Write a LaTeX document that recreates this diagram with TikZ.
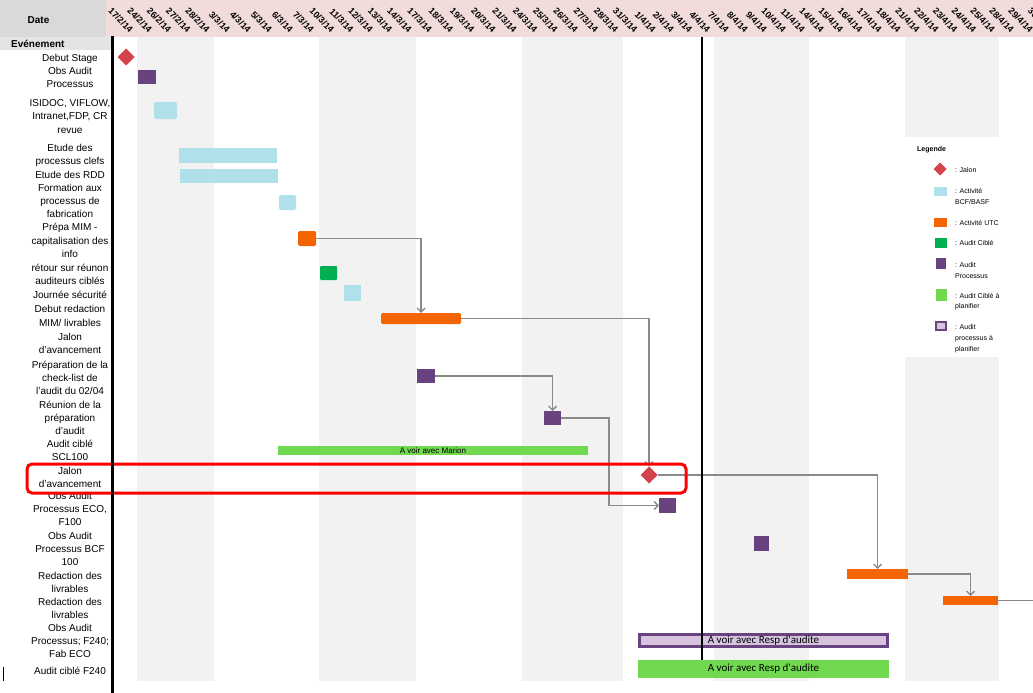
\documentclass[tikz,border=0pt]{standalone}
\usepackage{fontspec}
\setmainfont{Liberation Sans}
\newfontfamily\calfont{Carlito}
\usetikzlibrary{arrows.meta,positioning,shapes.geometric}
\definecolor{hdrpink}{HTML}{F2DCDB}
\definecolor{hdrgray}{HTML}{D9D9D9}
\definecolor{wkgray}{HTML}{F2F2F2}
\definecolor{jalred}{HTML}{D4434B}
\definecolor{bcfblue}{HTML}{B0E0E9}
\definecolor{utcorange}{HTML}{F46400}
\definecolor{cibgreen}{HTML}{00B050}
\definecolor{procpurple}{HTML}{694280}
\definecolor{plangreen}{HTML}{70D94F}
\definecolor{planlav}{HTML}{D6C3DE}
\definecolor{linkgray}{HTML}{8A8A8A}

\begin{document}
\begin{tikzpicture}[x=1pt,y=-1pt,
  task/.style={rectangle,inner sep=0pt,outer sep=0pt},
  jalon/.style={diamond,fill=jalred,inner sep=0pt,outer sep=0pt,minimum width=17pt,minimum height=17pt},
  link/.style={linkgray,line width=1.4pt,-{Straight Barb[length=4pt,width=8pt]}},
  rowlab/.style={align=center,inner sep=0pt,font=\fontsize{10}{13.3}\selectfont},
  datelab/.style={rotate=-45,anchor=east,inner sep=0pt,font=\fontsize{9}{10}\selectfont\bfseries},
  leglab/.style={anchor=west,align=left,inner sep=0pt,font=\fontsize{7}{10.7}\selectfont},
  barlab/.style={font=\fontsize{8}{9}\selectfont}]

  \useasboundingbox (0,0) rectangle (1033,693);
  \fill[white] (0,0) rectangle (1033,693);

  % =====================================================================
  % HEADER: Date row
  % =====================================================================
  \fill[hdrgray] (0,0) rectangle (106,37);
  \fill[hdrpink] (106,0) rectangle (1033,37);
  \node[font=\fontsize{10}{11}\selectfont\bfseries] (hdr-date) at (38.5,20) {Date};

  \begin{scope}
    \clip (106,0) rectangle (1033,37);
    \foreach \xc/\dd/\mm in {127.5/17/2, 146.6/24/2, 165.9/26/2, 185.1/27/2, 204.4/28/2,
        224.5/3/3, 245.5/4/3, 266.5/5/3, 287.5/6/3, 308.5/7/3,
        328.7/10/3, 348.1/11/3, 367.5/12/3, 386.9/13/3, 406.3/14/3,
        426.6/17/3, 447.8/18/3, 469/19/3, 490.2/20/3, 511.4/21/3,
        532.1/24/3, 552.3/25/3, 572.5/26/3, 592.7/27/3, 612.9/28/3,
        632.1/31/3, 650.3/1/4, 668.5/2/4, 686.7/3/4, 704.9/4/4,
        723.5/7/4, 742.5/8/4, 761.5/9/4, 780.5/10/4, 799.5/11/4,
        818.6/14/4, 837.8/15/4, 857/16/4, 876.2/17/4, 895.4/18/4,
        914.4/21/4, 933.2/22/4, 952/23/4, 970.8/24/4, 989.6/25/4,
        1008.5/28/4, 1027.5/29/4, 1047/30/4} {
      \node[datelab] (d-\dd-\mm) at (\xc+4,31) {\dd/\mm/14};
    }
  \end{scope}

  % Week shading
  \foreach \xa/\xb in {137/214, 319/416, 522/623, 714/809, 905/999} {
    \fill[wkgray] (\xa,37) rectangle (\xb,681);
  }

  % =====================================================================
  % LEGEND
  % =====================================================================
  \fill[white] (905,137) rectangle (999,357);
  \node[anchor=west,inner sep=0pt,font=\fontsize{7}{9}\selectfont\bfseries] (leg-title) at (917,150) {Legende};
  \node[jalon,minimum width=13pt,minimum height=13pt] (leg-jal) at (940,169) {};
  \node[task,fill=bcfblue,minimum width=12.5pt,minimum height=9pt] (leg-bcf) at (940.5,191.2) {};
  \node[task,fill=utcorange,minimum width=12.5pt,minimum height=9pt] (leg-utc) at (940.5,222.2) {};
  \node[task,fill=cibgreen,minimum width=12pt,minimum height=10pt] (leg-cib) at (941,242.7) {};
  \node[task,fill=procpurple,minimum width=9.5pt,minimum height=11.5pt] (leg-proc) at (940.8,263.5) {};
  \node[task,fill=plangreen,minimum width=11pt,minimum height=11.4pt] (leg-plan) at (941.3,295) {};
  \node[task,fill=planlav,draw=procpurple,line width=1.6pt,minimum width=10pt,minimum height=8.5pt] (leg-lav) at (941,326) {};
  \node[leglab] (leg-t1) at (955,170) {: Jalon};
  \node[leglab] (leg-t2) at (955,196.3) {: Activité\\BCF/BASF};
  \node[leglab] (leg-t3) at (955,222.7) {: Activité UTC};
  \node[leglab] (leg-t4) at (955,243.3) {: Audit Ciblé};
  \node[leglab] (leg-t5) at (955,270.3) {: Audit\\Processus};
  \node[leglab] (leg-t6) at (955,301.7) {: Audit Ciblé à\\planifier};
  \node[leglab] (leg-t7) at (955,338.6) {: Audit\\processus à\\planifier};

  % =====================================================================
  % LEFT COLUMN: events
  % =====================================================================
  \fill[hdrgray!70] (0,37) rectangle (112,50);
  \node[anchor=west,inner sep=0pt,font=\fontsize{10}{11}\selectfont\bfseries] (evt) at (11,43.5) {Evénement};

  \node[rowlab] (r-debut) at (70,59) {Debut Stage};
  \node[rowlab] (r-obs1) at (70,77.5) {Obs Audit\\Processus};
  \node[rowlab] (r-isidoc) at (70,116.5) {ISIDOC, VIFLOW,\\Intranet,FDP, CR\\revue};
  \node[rowlab] (r-etude) at (70,155.5) {Etude des\\processus clefs};
  \node[rowlab] (r-rdd) at (70,175) {Etude des RDD};
  \node[rowlab] (r-form) at (70,201) {Formation aux\\processus de\\fabrication};
  \node[rowlab] (r-prepa) at (70,240.5) {Prépa MIM -\\capitalisation des\\info};
  \node[rowlab] (r-retour) at (70,274.5) {rétour sur réunon\\auditeurs ciblés};
  \node[rowlab] (r-secu) at (70,295) {Journée sécurité};
  \node[rowlab] (r-redmim) at (70,316) {Debut redaction\\MIM/ livrables};
  \node[rowlab] (r-jal1) at (70,343.5) {Jalon\\d'avancement};
  \node[rowlab] (r-check) at (70,378) {Préparation de la\\check-list de\\l'audit du 02/04};
  \node[rowlab] (r-reun) at (70,418) {Réunion de la\\préparation\\d'audit};
  \node[rowlab] (r-scl) at (70,450.5) {Audit ciblé\\SCL100};
  \node[rowlab] (r-jal2) at (70,477.5) {Jalon\\d'avancement};
  \node[rowlab] (r-eco) at (70,509) {Obs Audit\\Processus ECO,\\F100};
  \node[rowlab] (r-bcf) at (70,549) {Obs Audit\\Processus BCF\\100};
  \node[rowlab] (r-liv1) at (70,582.5) {Redaction des\\livrables};
  \node[rowlab] (r-liv2) at (70,608.5) {Redaction des\\livrables};
  \node[rowlab] (r-f240) at (70,641) {Obs Audit\\Processus; F240;\\Fab ECO};
  \node[rowlab] (r-cib240) at (70,671) {Audit ciblé F240};

  % =====================================================================
  % TASKS
  % =====================================================================
  \node[jalon] (jalA) at (126,57) {};
  \node[task,fill=procpurple,minimum width=18pt,minimum height=14pt] (obsA) at (147,77) {};
  \node[task,fill=bcfblue,rounded corners=1.5pt,minimum width=23pt,minimum height=17pt] (isidoc) at (165.5,110.5) {};
  \node[task,fill=bcfblue,minimum width=98pt,minimum height=15pt] (etudeProc) at (228,155.5) {};
  \node[task,fill=bcfblue,minimum width=98pt,minimum height=14pt] (etudeRdd) at (229,176) {};
  \node[task,fill=bcfblue,rounded corners=1.5pt,minimum width=17pt,minimum height=15pt] (formation) at (287.5,202.5) {};
  \node[task,fill=utcorange,rounded corners=1.5pt,minimum width=18pt,minimum height=15pt] (prepa) at (307,238.5) {};
  \node[task,fill=cibgreen,rounded corners=1pt,minimum width=17pt,minimum height=14pt] (retour) at (328.5,273) {};
  \node[task,fill=bcfblue,minimum width=17pt,minimum height=16pt] (journee) at (352.5,293) {};
  \node[task,fill=utcorange,rounded corners=1.5pt,minimum width=80pt,minimum height=11pt] (redacMim) at (421,318.5) {};
  \node[task,fill=procpurple,minimum width=18pt,minimum height=14pt] (checklist) at (426,376) {};
  \node[task,fill=procpurple,minimum width=17pt,minimum height=14pt] (reunion) at (552.5,418) {};
  \node[task,fill=plangreen,minimum width=310pt,minimum height=9pt,barlab] (marion) at (433,450.5) {A voir avec Marion};
  \node[jalon] (jalB) at (649,475) {};
  \node[task,fill=procpurple,minimum width=17pt,minimum height=15pt] (obsEco) at (667.5,505.5) {};
  \node[task,fill=procpurple,minimum width=15pt,minimum height=15pt] (obsBcf) at (761.5,543.5) {};
  \node[task,fill=utcorange,minimum width=61pt,minimum height=10pt] (redacA) at (877.5,574) {};
  \node[task,fill=utcorange,minimum width=55pt,minimum height=9pt] (redacB) at (970.5,600.5) {};
  \node[task,fill=planlav,draw=procpurple,line width=3pt,minimum width=248pt,minimum height=12pt,
        font=\calfont\fontsize{11}{12}\selectfont] (obsF240) at (763.5,640.5) {A voir avec Resp d'audite};
  \node[task,fill=plangreen,minimum width=251pt,minimum height=18pt,
        font=\calfont\fontsize{11}{12}\selectfont] (cibF240) at (763.5,669) {A voir avec Resp d'audite};

  % Links between tasks
  \coordinate (chartend) at (1033,600.5);
  \draw[link] (prepa.east) -| (redacMim.north);
  \draw[link] (redacMim.east) -| (jalB.north);
  \draw[link] (checklist.east) -| (reunion.north);
  \draw[link] (reunion.east) -- ++(48,0) |- (obsEco.west);
  \draw[link] (jalB.east) -| (redacA.north);
  \draw[link] (redacA.east) -| (redacB.north);
  \draw[linkgray,line width=1.4pt] (redacB.east) -- (chartend);

  % Today line
  \draw[black,line width=2pt] (702,37) -- (702,660);

  % Highlighted milestone
  \draw[red,line width=3pt,rounded corners=5pt] (27,464) rectangle (686,493);

  % Column border
  \draw[black,line width=3pt] (112,36) -- (112,693);
  \draw[black,line width=1pt] (3,667) -- (3,681);

\end{tikzpicture}
\end{document}
